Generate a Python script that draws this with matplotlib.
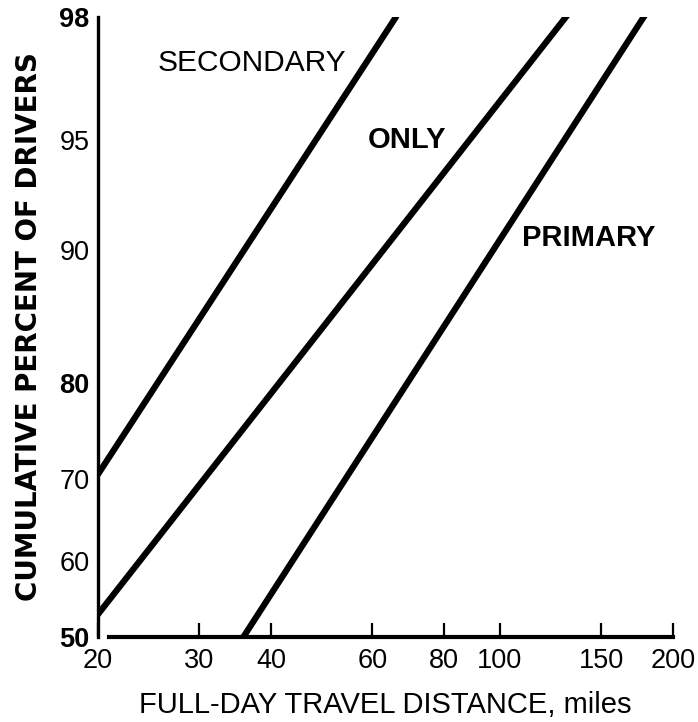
import matplotlib
matplotlib.use("Agg")
import matplotlib.pyplot as plt
import numpy as np
from statistics import NormalDist

plt.rcParams['font.family'] = ['Liberation Sans', 'DejaVu Sans']

# data (lognormal lines: two points each)
secondary_x = [20, 66]
secondary_p = [70.5, 98.0]
only_x = [20, 133]
only_p = [53.0, 98.1]
primary_x = [35.8, 181]
primary_p = [50.0, 98.1]

xticks = [20, 30, 40, 60, 80, 100, 150, 200]
yticks = [50, 60, 70, 80, 90, 95, 98]
bold_y = [50, 80, 98]

nd = NormalDist()
_ppf = np.vectorize(lambda p: nd.inv_cdf(p), otypes=[float])
_cdf = np.vectorize(lambda z: nd.cdf(z), otypes=[float])


def forward(p):
    p = np.clip(np.asarray(p, dtype=float), 0.01, 99.99)
    return _ppf(p / 100.0)


def inverse(z):
    return _cdf(np.asarray(z, dtype=float)) * 100.0


fig = plt.figure(figsize=(6.98, 7.22), dpi=100)
ax = fig.add_axes([0.1404, 0.1177, 0.8236, 0.859])

ax.set_xscale('log')
ax.set_yscale('function', functions=(forward, inverse))
ax.set_xlim(20, 200)
ax.set_ylim(50, 98)

lw = 4.5
ax.plot(secondary_x, secondary_p, color='black', lw=lw, solid_capstyle='round')
ax.plot(only_x, only_p, color='black', lw=lw, solid_capstyle='round')
ax.plot(primary_x, primary_p, color='black', lw=lw, solid_capstyle='round')

ax.text(37.0, 97.13, 'SECONDARY', fontsize=21.5, ha='center', va='center')
ax.text(68.9, 95.0, 'ONLY', fontsize=21, ha='center', va='center', fontweight='bold')
ax.text(142.9, 90.68, 'PRIMARY', fontsize=21, ha='center', va='center', fontweight='bold')

ax.spines['top'].set_visible(False)
ax.spines['right'].set_visible(False)
ax.spines['left'].set_linewidth(2.4)
ax.spines['bottom'].set_linewidth(3)
ax.spines['bottom'].set_bounds(20.9, 200)

ax.set_xticks(xticks)
ax.set_xticklabels([str(t) for t in xticks])
ax.xaxis.set_minor_locator(matplotlib.ticker.NullLocator())
ax.tick_params(axis='x', direction='in', length=10, width=1.6, pad=8, labelsize=19.5)

ax.set_yticks(yticks)
ax.set_yticklabels([str(t) for t in yticks])
ax.yaxis.set_minor_locator(matplotlib.ticker.NullLocator())
ax.tick_params(axis='y', length=0, pad=6, labelsize=19.5)
for lab, t in zip(ax.get_yticklabels(), yticks):
    if t in bold_y:
        lab.set_fontweight('bold')

ax.set_xlabel('FULL-DAY TRAVEL DISTANCE, miles', fontsize=21, labelpad=12)
ax.set_ylabel('CUMULATIVE PERCENT OF DRIVERS', fontsize=20, fontweight='bold',
              family=['DejaVu Sans'], labelpad=12)

fig.savefig('out.png', dpi=100)
